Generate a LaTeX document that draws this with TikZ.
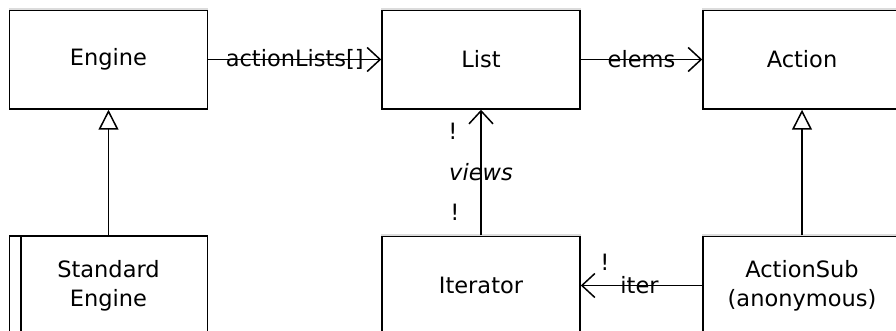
\documentclass[tikz,border=0pt]{standalone}
\usepackage{fontspec}
\setmainfont{DejaVu Sans}
\usetikzlibrary{arrows.meta,positioning}
\definecolor{Ink}{HTML}{000000}
\definecolor{Rim}{HTML}{DCDCDC}
\tikzset{
  cls/.style={draw=Ink,line width=1.5pt,minimum width=198pt,minimum height=99pt,
    inner sep=0pt,align=center,font=\fontsize{22.5}{29}\selectfont},
  lbl/.style={inner sep=0pt,font=\fontsize{22.5}{29}\selectfont},
  assoc/.style={Ink,line width=1.5pt,-{Straight Barb[length=13pt,width=24pt]}},
  gen/.style={Ink,line width=1.5pt,-{Triangle[open,length=20pt,width=20pt]}},
  rim/.style={Rim,line width=1.6pt}
}

\begin{document}
\begin{tikzpicture}[x=1pt,y=-1pt]
  \useasboundingbox (0,0) rectangle (896,331);
  % classes
  \node[cls] (eng)  at (108.5,59.5) {Engine};
  \node[cls] (list) at (481,59.5)   {List};
  \node[cls] (act)  at (802,59.5)   {Action};
  \node[cls] (steng) at (108.5,285.5) {Standard\\Engine};
  \node[cls] (iter)  at (481,285.5)   {Iterator};
  \node[cls] (asub)  at (802,285.5)   {ActionSub\\(anonymous)};
  \foreach \n in {eng,list,act,iter,asub}
    \draw[rim] (\n.north west) -- (\n.north east);
  \draw[Ink,line width=1.5pt] ([xshift=12pt]steng.north west) -- ([xshift=12pt]steng.south west);
  % links
  \draw[assoc] (eng.east) -- node[lbl] (lnkA) {actionLists[]} (list.west);
  \draw[assoc] (list.east) -- node[lbl] (lnkB) {elems} (act.west);
  \draw[assoc] (iter.north) -- node[lbl] (lnkC) {\itshape views} (list.south);
  \draw[assoc] (asub.west) -- node[lbl,xshift=-2pt] (lnkD) {iter} (iter.east);
  \draw[gen] (steng.north) -- (eng.south);
  \draw[gen] (asub.north) -- (act.south);
  \node[lbl] (m1) at (453,131) {!};
  \node[lbl] (m2) at (455,212) {!};
  \node[lbl] (m3) at (605,262) {!};
\end{tikzpicture}
\end{document}
